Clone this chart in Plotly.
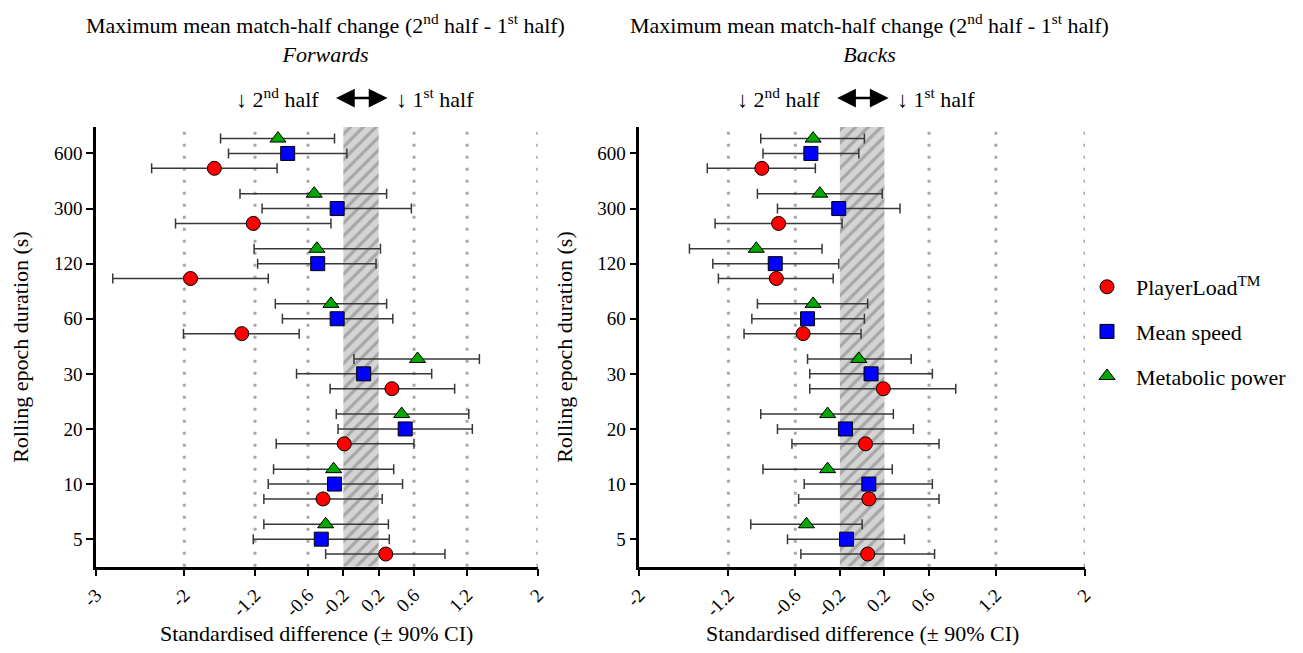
import plotly.graph_objects as go

# ---------------- data ----------------
durations = ['5', '10', '20', '30', '60', '120', '300', '600']  # bottom -> top

# Forwards
fw_pl = [0.28, -0.43, -0.19, 0.35, -1.35, -1.93, -1.22, -1.66]
fw_pl_lo = [-0.40, -1.10, -0.96, -0.35, -2.01, -2.81, -2.10, -2.37]
fw_pl_hi = [0.95, 0.24, 0.60, 1.06, -0.70, -1.05, -0.34, -0.95]
fw_ms = [-0.45, -0.30, 0.50, 0.03, -0.27, -0.49, -0.27, -0.83]
fw_ms_lo = [-1.22, -1.05, -0.26, -0.73, -0.89, -1.17, -1.12, -1.50]
fw_ms_hi = [0.32, 0.47, 1.26, 0.80, 0.36, 0.17, 0.57, -0.16]
fw_mp = [-0.40, -0.31, 0.46, 0.64, -0.34, -0.50, -0.53, -0.94]
fw_mp_lo = [-1.10, -0.99, -0.28, -0.08, -0.97, -1.21, -1.37, -1.59]
fw_mp_hi = [0.31, 0.37, 1.22, 1.34, 0.29, 0.22, 0.29, -0.30]

# Backs
bk_pl = [0.05, 0.06, 0.03, 0.19, -0.53, -0.77, -0.75, -0.90]
bk_pl_lo = [-0.55, -0.57, -0.63, -0.47, -1.06, -1.29, -1.32, -1.39]
bk_pl_hi = [0.65, 0.69, 0.69, 0.84, -0.01, -0.26, -0.18, -0.42]
bk_ms = [-0.14, 0.06, -0.15, 0.08, -0.49, -0.78, -0.21, -0.46]
bk_ms_lo = [-0.67, -0.52, -0.76, -0.47, -0.99, -1.34, -0.76, -0.89]
bk_ms_hi = [0.38, 0.63, 0.46, 0.63, 0.02, -0.21, 0.34, -0.03]
bk_mp = [-0.50, -0.31, -0.31, -0.03, -0.44, -0.95, -0.38, -0.44]
bk_mp_lo = [-1.00, -0.89, -0.91, -0.49, -0.94, -1.55, -0.94, -0.91]
bk_mp_hi = [0.00, 0.27, 0.28, 0.44, 0.05, -0.36, 0.18, 0.02]

fw_ticks = [-3, -2, -1.2, -0.6, -0.2, 0.2, 0.6, 1.2, 2]
bk_ticks = [-2, -1.2, -0.6, -0.2, 0.2, 0.6, 1.2, 2]
fw_grid = [-2, -1.2, -0.6, 0.6, 1.2, 2]
bk_grid = [-1.2, -0.6, 0.6, 1.2, 2]
TRIVIAL = 0.2

series_names = ['PlayerLoad<sup>TM</sup>', 'Mean speed', 'Metabolic power']

# ---------------- style ----------------
FONT = 'Liberation Serif'
OFF = 8                      # page body margin
W, H = 1303 - OFF, 653 - OFF


def px(p):
    return (p - OFF) / W


def py(p):
    return (H - (p - OFF)) / H


colors = ['#ff0000', '#0000ff', '#00a800']
symbols = ['circle', 'square', 'triangle-up']
sizes = [14, 14, 14]
offsets = [-0.27, 0.0, 0.27]
YR = [-0.5, 7.48]
FW_XR = [-3, 2]
BK_XR = [-2, 2]
fw_dom = [px(96), px(537.7)]
bk_dom = [px(639.3), px(1085)]
y_dom = [py(566.7), py(127)]

fig = go.Figure()


def add_band(xa, ya):
    fig.add_trace(go.Scatter(
        x=[-TRIVIAL, TRIVIAL, TRIVIAL, -TRIVIAL, -TRIVIAL],
        y=[YR[0], YR[0], YR[1], YR[1], YR[0]],
        mode='none', fill='toself', hoverinfo='skip', showlegend=False,
        fillpattern=dict(shape='/', bgcolor='#d4d4d4', fgcolor='#a6a6a6',
                         size=9, solidity=0.35, fillmode='replace'),
        xaxis=xa, yaxis=ya))


def add_series(means, lo, hi, k, xa, ya, show):
    ys = [i + offsets[k] for i in range(len(durations))]
    fig.add_trace(go.Scatter(
        x=means, y=ys, mode='markers', name=series_names[k],
        legendgroup=str(k), showlegend=show,
        marker=dict(symbol=symbols[k], size=sizes[k], color=colors[k],
                    line=dict(color='black', width=1)),
        error_x=dict(type='data', symmetric=False,
                     array=[h - m for h, m in zip(hi, means)],
                     arrayminus=[m - l for m, l in zip(means, lo)],
                     color='#383838', thickness=1.5, width=5),
        xaxis=xa, yaxis=ya))


add_band('x', 'y')
add_band('x2', 'y2')
for k, (m, l, h) in enumerate([(fw_pl, fw_pl_lo, fw_pl_hi), (fw_ms, fw_ms_lo, fw_ms_hi), (fw_mp, fw_mp_lo, fw_mp_hi)]):
    add_series(m, l, h, k, 'x', 'y', True)
for k, (m, l, h) in enumerate([(bk_pl, bk_pl_lo, bk_pl_hi), (bk_ms, bk_ms_lo, bk_ms_hi), (bk_mp, bk_mp_lo, bk_mp_hi)]):
    add_series(m, l, h, k, 'x2', 'y2', False)

# dotted reference lines
for xa, ya, grid in [('x', 'y', fw_grid), ('x2', 'y2', bk_grid)]:
    for g in grid:
        fig.add_shape(type='line', xref=xa, yref=ya + ' domain', x0=g, x1=g, y0=0, y1=1,
                      line=dict(color='#a8a8a8', width=3, dash='3px,9px'), layer='below')


def tick_text(vals):
    return [('%g' % v) for v in vals]


axis_common = dict(showline=True, linecolor='black', linewidth=2.5, ticks='outside',
                   ticklen=7, tickwidth=2, tickcolor='black', showgrid=False, zeroline=False,
                   automargin=False,
                   tickfont=dict(family=FONT, size=19, color='black'))

fig.update_layout(
    width=W, height=H, margin=dict(l=0, r=0, t=0, b=0, autoexpand=False),
    paper_bgcolor='white', plot_bgcolor='white',
    font=dict(family=FONT, size=22, color='black'),
    xaxis=dict(domain=fw_dom, range=FW_XR, tickvals=fw_ticks, ticktext=tick_text(fw_ticks),
               tickangle=-45, anchor='y', **axis_common),
    yaxis=dict(domain=y_dom, range=YR, tickvals=list(range(len(durations))), ticktext=durations,
               anchor='x', **axis_common),
    xaxis2=dict(domain=bk_dom, range=BK_XR, tickvals=bk_ticks, ticktext=tick_text(bk_ticks),
                tickangle=-45, anchor='y2', **axis_common),
    yaxis2=dict(domain=y_dom, range=YR, tickvals=list(range(len(durations))), ticktext=durations,
                anchor='x2', **axis_common),
    legend=dict(x=px(1078), y=py(266), xanchor='left', yanchor='top',
                font=dict(family=FONT, size=22, color='black'),
                traceorder='grouped', tracegroupgap=13, itemwidth=48,
                bgcolor='rgba(0,0,0,0)'),
    showlegend=True,
)

title1 = 'Maximum mean match-half change (2<sup>nd</sup> half - 1<sup>st</sup> half)'
ann = []
for cx, sub in [(px(325), 'Forwards'), (px(869), 'Backs')]:
    ann.append(dict(text=title1 + '<br><i>' + sub + '</i>', x=cx, y=py(38.5), xref='paper',
                    yref='paper', showarrow=False, xanchor='center', yanchor='middle',
                    align='center', font=dict(size=22)))

ARROW_Y = py(98)
for xa, xr, dom in [('x', FW_XR, fw_dom), ('x2', BK_XR, bk_dom)]:
    half = 26.5 / ((dom[1] - dom[0]) * W) * (xr[1] - xr[0])
    ann.append(dict(text='', x=half, y=ARROW_Y, ax=-half, ay=0, xref=xa, yref='paper',
                    axref=xa, ayref='pixel', showarrow=True, arrowhead=2, startarrowhead=2,
                    arrowside='end+start', arrowwidth=2.5, arrowsize=1.5, startarrowsize=1.5,
                    arrowcolor='black'))
    ann.append(dict(text='\u2193 2<sup>nd</sup> half', x=0, y=ARROW_Y, xref=xa, yref='paper',
                    xanchor='right', yanchor='middle', xshift=-40, showarrow=False,
                    font=dict(size=22)))
    ann.append(dict(text='\u2193 1<sup>st</sup> half', x=0, y=ARROW_Y, xref=xa, yref='paper',
                    xanchor='left', yanchor='middle', xshift=33, showarrow=False,
                    font=dict(size=22)))

for cx in [px(21), px(565)]:
    ann.append(dict(text='Rolling epoch duration (s)', x=cx, y=sum(y_dom) / 2, xref='paper',
                    yref='paper', textangle=-90, showarrow=False, xanchor='center',
                    yanchor='middle', font=dict(size=22)))
for dom in [fw_dom, bk_dom]:
    ann.append(dict(text='Standardised difference (\u00b1 90% CI)', x=sum(dom) / 2,
                    y=py(633), xref='paper', yref='paper', showarrow=False,
                    xanchor='center', yanchor='middle', font=dict(size=22)))

fig.update_layout(annotations=ann)
fig.write_html('out.html')
